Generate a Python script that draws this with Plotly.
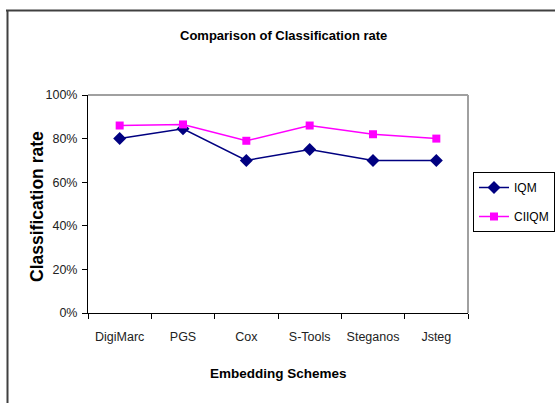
import plotly.graph_objects as go

categories = ["DigiMarc", "PGS", "Cox", "S-Tools", "Steganos", "Jsteg"]
iqm = [80, 84.5, 70, 75, 70, 70]
ciiqm = [86, 86.5, 79, 86, 82, 80]
y_ticks = [0, 20, 40, 60, 80, 100]
y_tick_labels = ["0%", "20%", "40%", "60%", "80%", "100%"]

W, H = 555, 403
L, R, T, B = 88, 468, 95, 313  # plot area in pixels


def px(x):
    return (x - L) / (R - L)


def py(y):
    return (B - y) / (B - T)


FONT = "Liberation Sans, Arial, sans-serif"

fig = go.Figure()
fig.add_trace(go.Scatter(
    x=categories, y=iqm, name="IQM", mode="lines+markers", legendgroup="a",
    line=dict(color="#000080", width=1.5),
    marker=dict(symbol="diamond", size=10, color="#000080"),
))
fig.add_trace(go.Scatter(
    x=categories, y=ciiqm, name="CIIQM", mode="lines+markers", legendgroup="b",
    line=dict(color="#FF00FF", width=1.5),
    marker=dict(symbol="square", size=8, color="#FF00FF"),
))

shapes = [
    dict(type="line", xref="paper", yref="paper", x0=px(6), x1=px(556), y0=py(10.5), y1=py(10.5),
         line=dict(color="#404040", width=2)),
    dict(type="line", xref="paper", yref="paper", x0=px(7.5), x1=px(7.5), y0=py(10), y1=py(404),
         line=dict(color="#404040", width=2)),
    dict(type="line", xref="paper", yref="paper", x0=0, x1=1, y0=1, y1=1,
         line=dict(color="#A0A0A0", width=2)),
    dict(type="line", xref="paper", yref="paper", x0=1, x1=1, y0=0, y1=1,
         line=dict(color="#A0A0A0", width=2)),
]

annotations = [
    dict(text="<b>Comparison of Classification rate</b>", xref="paper", yref="paper",
         x=px(283), y=py(35), showarrow=False, font=dict(size=13, color="black", family=FONT),
         xanchor="center", yanchor="middle"),
    dict(text="<b>Classification rate</b>", xref="paper", yref="paper",
         x=px(37), y=py(207), showarrow=False, textangle=-90,
         font=dict(size=17.5, color="black", family=FONT), xanchor="center", yanchor="middle"),
    dict(text="<b>Embedding Schemes</b>", xref="paper", yref="paper",
         x=px(278), y=py(373), showarrow=False,
         font=dict(size=13.5, color="black", family=FONT), xanchor="center", yanchor="middle"),
]

fig.update_layout(
    width=W, height=H,
    margin=dict(l=L, r=W - R, t=T, b=H - B, pad=0, autoexpand=False),
    paper_bgcolor="white", plot_bgcolor="white",
    font=dict(family=FONT, size=12.5, color="#222222"),
    showlegend=True,
    legend=dict(x=px(555), y=py(172), xanchor="right", yanchor="top",
                bordercolor="black", borderwidth=1, bgcolor="white",
                font=dict(size=12, color="black", family=FONT),
                itemwidth=30, tracegroupgap=10),
    shapes=shapes,
    annotations=annotations,
)
fig.update_xaxes(
    type="category", range=[-0.5, 5.5], showgrid=False, zeroline=False,
    showline=True, linecolor="black", linewidth=1,
    ticks="outside", tickson="boundaries", ticklen=5, tickcolor="black",
    tickangle=0,
    tickfont=dict(size=12.5, color="#222222", family=FONT),
    ticklabelstandoff=12,
)
fig.update_yaxes(
    range=[0, 100], tickmode="array", tickvals=y_ticks, ticktext=y_tick_labels,
    showgrid=False, zeroline=False,
    showline=True, linecolor="black", linewidth=1,
    ticks="outside", ticklen=5, tickcolor="black",
    tickfont=dict(size=12.5, color="#222222", family=FONT),
    ticklabelstandoff=2,
)

fig.write_html("out.html")
